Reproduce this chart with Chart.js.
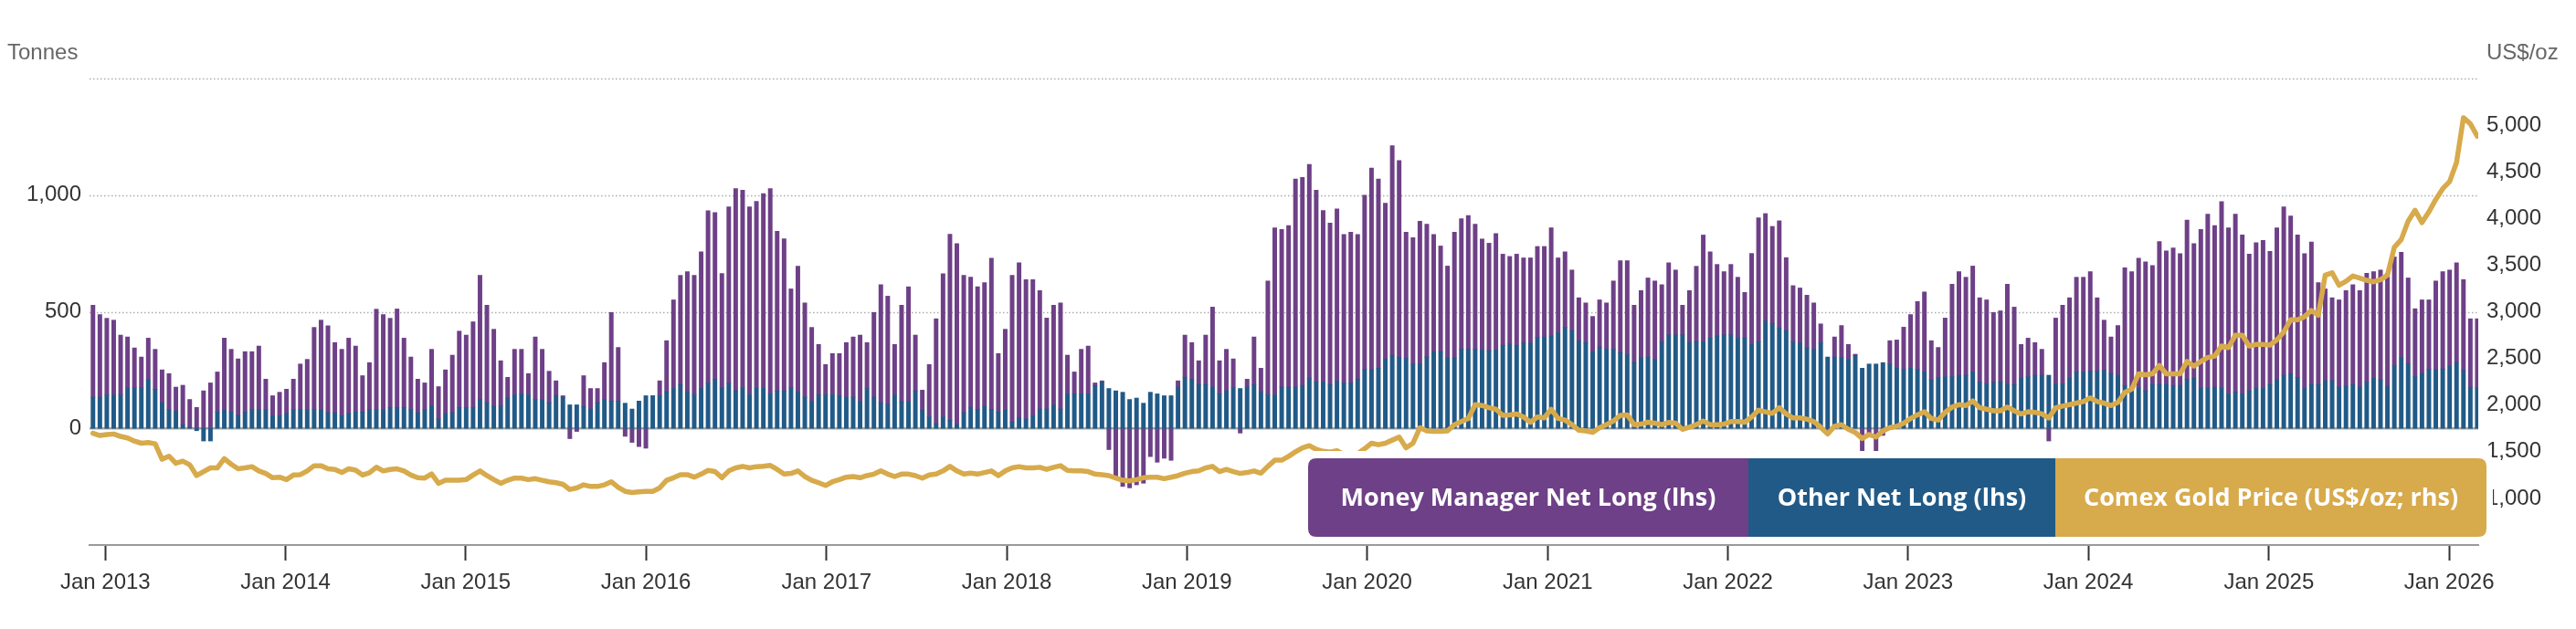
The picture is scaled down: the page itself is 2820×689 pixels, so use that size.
<!DOCTYPE html>
<html>
<head>
<meta charset="utf-8">
<script src="https://cdn.jsdelivr.net/npm/chart.js@4.4.1/dist/chart.umd.min.js"></script>
<style>
  html, body { margin: 0; padding: 0; background: #ffffff; }
  #wrap { width: 2820px; height: 689px; position: relative; }
  canvas { display: block; }
</style>
</head>
<body>
<div id="wrap"><canvas id="c" width="2820" height="689"></canvas></div>
<script>
// ---- Data (biweekly COMEX positioning, tonnes; Comex gold price, US$/oz) ----
const firstReportDate = '2012-12-07';
const reportStepDays = 14;

const seriesNames = ['Money Manager Net Long (lhs)', 'Other Net Long (lhs)', 'Comex Gold Price (US$/oz; rhs)'];

const otherNetLong = [
  134,134,144,144,144,175,175,175,208,168,
  110,81,74,16,5,-10,-54,-54,70,81,
  70,56,70,81,81,81,54,54,63,81,
  81,81,81,81,67,67,54,63,70,70,
  81,81,
  81,90,90,90,81,67,81,97,
  40,63,67,90,90,90,124,110,97,97,
  130,144,148,144,124,124,110,141,134,101,
  101,94,83,110,124,117,117,108,83,117,
  140,140,140,157,171,188,
  157,144,171,195,
  211,175,195,161,175,144,175,175,148,161,
  161,175,155,134,114,144,144,144,140,134,
  134,114,171,134,110,103,144,114,114,161,
  78,50,20,50,34,16,67,90,81,94,
  81,70,81,27,47,40,54,83,83,101,
  83,148,148,148,148,184,198,171,161,155,
  124,130,108,155,148,140,140,177,219,211,
  188,188,177,148,161,175,171,177,188,157,
  144,144,177,177,
  177,184,215,198,198,188,
  202,195,195,211,253,253,258,298,313,304,
  300,276,276,306,329,329,302,302,340,340,
  340,336,333,336,356,363,356,366,366,390,
  392,396,410,433,419,376,368,
  329,349,339,
  339,325,316,282,302,306,296,370,401,401,
  401,370,372,370,387,396,401,401,387,387,
  360,370,460,450,430,419,370,366,345,339,
  367,306,306,302,296,313,258,276,276,282,276,
  258,253,258,253,242,208,218,222,222,
  228,228,242,198,191,198,198,188,188,215,
  222,228,228,228,191,191,215,242,242,245,
  245,249,235,228,184,161,175,161,188,188,
  188,184,184,211,215,
  175,175,177,175,148,
  155,148,161,175,175,188,208,228,235,218,
  175,188,188,204,204,177,181,188,177,198,
  215,208,181,269,302,276,222,235,253,253,
  255,269,282,249,177,175
];

const moneyManagerNetLong = [
  394,354,328,320,256,217,170,131,179,171,
  141,154,103,169,119,90,161,195,172,306,
  269,242,259,248,272,130,86,101,105,130,
  195,215,352,383,373,301,285,324,283,156,
  201,430,
  407,382,422,297,225,144,114,242,
  139,188,247,327,310,367,532,418,328,193,
  89,195,191,91,268,215,135,63,6,-44,
  -13,132,88,61,158,380,230,-34,-60,-78,
  -85,0,64,219,380,468,
  515,512,586,738,
  714,489,755,867,846,806,798,832,880,684,
  652,423,540,404,319,216,130,177,181,234,
  258,286,197,363,506,464,216,414,493,239,
  86,224,450,613,798,776,589,558,526,531,
  649,251,344,629,663,598,584,508,390,427,
  455,166,94,191,205,11,6,-91,-208,-249,
  -255,-242,-235,-121,-145,-128,-137,27,181,157,
  102,212,343,142,178,123,-20,34,204,101,
  488,716,676,693,
  892,892,917,823,736,692,
  739,636,646,620,747,863,811,667,899,844,
  541,542,612,569,502,453,394,539,559,573,
  535,476,461,499,391,374,391,365,365,390,
  388,464,321,324,260,184,170,
  151,202,199,
  293,394,403,246,289,339,336,246,309,278,
  127,221,323,459,370,307,271,302,261,196,
  390,533,461,416,460,313,242,236,226,199,
  81,-15,86,139,64,5,-97,-30,-97,-30,100,
  121,181,230,291,343,168,129,251,396,
  444,420,454,362,360,299,306,430,332,145,
  165,140,111,-54,282,337,345,406,406,427,
  315,215,157,213,505,511,555,553,510,613,
  573,590,565,682,577,
  678,743,693,797,712,
  763,681,586,621,631,571,652,722,676,611,
  574,611,437,394,356,374,410,428,414,467,
  457,471,484,466,453,369,291,316,298,379,
  417,410,428,389,293,295
];

const comexGoldPrice = [
  1697,1674,1684,1690,1664,1647,1614,1591,1598,1585,
  1419,1452,1376,1399,1360,1244,1287,1327,1327,1426,
  1366,1317,1327,1340,1294,1267,1221,1227,1201,1250,
  1254,1294,1350,1350,1317,1310,1277,1317,1303,1250,
  1274,1334,1294,
  1310,1317,1294,1250,1221,1217,1261,1161,1194,1194,
  1194,1201,1250,1294,1244,1201,1161,1194,1217,1217,
  1201,1211,1194,1178,1168,1151,1095,1112,1145,1128,
  1128,1145,1178,1118,1075,1062,1069,1075,1075,1112,
  1194,1221,1254,
  1254,1227,1260,1300,1287,1221,1294,1327,1343,1327,
  1340,1343,1353,1310,1260,1267,1294,1234,1194,1168,
  1138,1178,1201,1227,1234,1221,1244,1260,1294,1260,
  1234,1260,1260,1244,1217,1250,1260,1294,1343,1294,
  1260,1270,1260,1277,
  1294,1244,1294,1327,1340,1327,1327,1333,1310,1333,
  1350,1300,1294,1294,1287,1260,1254,1244,1217,1194,
  1188,1201,1221,1227,1227,1211,1227,1244,1270,1287,
  1294,1327,1343,1287,1310,1287,1267,1277,1294,1270,
  1343,1409,1409,1450,
  1499,1542,1565,1525,1505,1495,1510,1470,1465,1478,
  1532,1591,1575,1591,1624,1657,1542,1591,1757,1723,
  1717,1717,1723,1790,1823,1856,2005,1995,1971,1955,
  1889,1895,1905,1872,1816,1872,1862,1955,1856,1839,
  1790,1730,1723,
  1707,1757,1790,1829,1889,1895,1790,1796,1816,1806,
  1790,1813,1806,1740,1763,1790,1829,1790,1790,1796,
  1823,1823,1816,1872,1945,1928,1912,1971,1905,1862,
  1862,1849,1823,1763,1690,1773,1790,1740,1707,1641,
  1684,1657,1724,1757,
  1773,1806,1856,1895,1928,1856,1839,1922,1978,2004,
  1995,2044,1971,1955,1938,1938,1978,1938,1905,1928,
  1922,1905,1862,1971,1988,2004,2021,2038,2077,2038,
  2021,1995,2028,2137,2170,2335,2325,2335,2424,2335,
  2335,2335,2467,2418,
  2467,2510,2524,2633,2616,2749,2749,2633,2649,2649,
  2643,2699,2782,2914,2914,2947,3013,2963,3393,3417,
  3284,3327,3384,3360,3337,3321,3344,3393,3691,3774,
  3972,4088,3956,4071,4204,4319,4395,4600,5080,5014,
  4882
];

const tickYears = [2013,2014,2015,2016,2017,2018,2019,2020,2021,2022,2023,2024,2025,2026];
const leftTickLabels = [0, 500, 1000];
const rightTickLabels = [1000,1500,2000,2500,3000,3500,4000,4500,5000];

// ---- Style ----
const COLORS = { mm: '#6e4087', other: '#215a87', gold: '#d7aa4b' };
const DAY = 86400000;
const fp = firstReportDate.split('-').map(Number);
const firstDay = Date.UTC(fp[0], fp[1] - 1, fp[2]) / DAY;
const reportDays = moneyManagerNetLong.map((_, i) => firstDay + i * reportStepDays);
const yearDay = y => Date.UTC(y, 0, 1) / DAY;

const toXY = arr => arr.map((v, i) => ({ x: reportDays[i], y: v }));

const gridPlugin = {
  id: 'customGrid',
  beforeDatasetsDraw(chart) {
    const { ctx, chartArea } = chart;
    const y = chart.scales.y;
    ctx.save();
    [500, 1000, 1500].forEach(v => {
      const py = Math.round(y.getPixelForValue(v)) + 0.5;
      ctx.beginPath();
      ctx.setLineDash([1.5, 2.5]);
      ctx.lineWidth = 1.5;
      ctx.strokeStyle = '#adadad';
      ctx.moveTo(chartArea.left, py);
      ctx.lineTo(chartArea.right, py);
      ctx.stroke();
    });
    const p0 = y.getPixelForValue(0);
    ctx.setLineDash([]);
    ctx.beginPath();
    ctx.lineWidth = 2.5;
    ctx.strokeStyle = '#a5a5a5';
    ctx.moveTo(chartArea.left, p0);
    ctx.lineTo(chartArea.right, p0);
    ctx.stroke();
    ctx.restore();
  }
};

function roundRectPath(ctx, x, y, w, h, r) {
  ctx.beginPath();
  ctx.moveTo(x + r, y);
  ctx.lineTo(x + w - r, y);
  ctx.quadraticCurveTo(x + w, y, x + w, y + r);
  ctx.lineTo(x + w, y + h - r);
  ctx.quadraticCurveTo(x + w, y + h, x + w - r, y + h);
  ctx.lineTo(x + r, y + h);
  ctx.quadraticCurveTo(x, y + h, x, y + h - r);
  ctx.lineTo(x, y + r);
  ctx.quadraticCurveTo(x, y, x + r, y);
  ctx.closePath();
}

const legendPlugin = {
  id: 'boxLegend',
  afterDatasetsDraw(chart) {
    const ctx = chart.ctx;
    const L = 1432, T = 502, H = 86;
    const widths = [482, 336, 472];
    const cols = [COLORS.mm, COLORS.other, COLORS.gold];
    const total = widths.reduce((a, b) => a + b, 0);
    ctx.save();
    ctx.fillStyle = '#ffffff';
    roundRectPath(ctx, L - 7, T - 8, total + 14, H + 13, 12);
    ctx.fill();
    roundRectPath(ctx, L, T, total, H, 9);
    ctx.clip();
    let x = L;
    ctx.font = '700 27px "Open Sans", "Noto Sans", sans-serif';
    ctx.textAlign = 'center';
    ctx.textBaseline = 'middle';
    widths.forEach((w, i) => {
      ctx.fillStyle = cols[i];
      ctx.fillRect(x, T, w + 1, H);
      ctx.fillStyle = '#ffffff';
      ctx.fillText(seriesNames[i], x + w / 2, T + H / 2 + 1);
      x += w;
    });
    ctx.restore();
  },
  afterDraw(chart) {
    const ctx = chart.ctx;
    ctx.save();
    ctx.font = '24px "Liberation Sans", Arial, sans-serif';
    ctx.fillStyle = '#666666';
    ctx.textBaseline = 'middle';
    ctx.textAlign = 'left';
    ctx.fillText('Tonnes', 8, 58);
    ctx.fillText('US$/oz', 2722, 58);
    ctx.restore();
  }
};

const axisFont = { family: '"Liberation Sans", Arial, sans-serif', size: 24 };

new Chart(document.getElementById('c'), {
  data: {
    datasets: [
      {
        type: 'line', label: seriesNames[2], data: toXY(comexGoldPrice), yAxisID: 'y2',
        borderColor: COLORS.gold, borderWidth: 5.5, pointRadius: 0, tension: 0,
        borderJoinStyle: 'round', borderCapStyle: 'round', fill: false, order: 0
      },
      {
        type: 'bar', label: seriesNames[1], data: toXY(otherNetLong), yAxisID: 'y',
        backgroundColor: COLORS.other, barThickness: 4.3, stack: 'pos', order: 1
      },
      {
        type: 'bar', label: seriesNames[0], data: toXY(moneyManagerNetLong), yAxisID: 'y',
        backgroundColor: COLORS.mm, barThickness: 4.3, stack: 'pos', order: 1
      }
    ]
  },
  options: {
    responsive: false,
    devicePixelRatio: 1,
    animation: false,
    layout: { padding: { top: 86, left: 0, right: 0, bottom: 0 } },
    plugins: { legend: { display: false }, tooltip: { enabled: false } },
    scales: {
      x: {
        type: 'linear',
        stacked: true,
        offset: false,
        bounds: 'data',
        min: firstDay - 7,
        max: reportDays[reportDays.length - 1] + 2,
        afterBuildTicks(s) { s.ticks = tickYears.map(y => ({ value: yearDay(y) })); },
        afterFit(s) { s.height = 92; },
        ticks: {
          autoSkip: false, maxRotation: 0, padding: 10,
          color: '#333333', font: axisFont,
          callback(v) { return 'Jan ' + new Date(v * DAY).getUTCFullYear(); }
        },
        grid: { display: true, offset: false, drawOnChartArea: false, drawTicks: true, tickLength: 17, tickColor: '#333333', tickWidth: 2 },
        border: { display: true, color: '#9a9a9a', width: 2 }
      },
      y: {
        position: 'left', stacked: true, min: -500, max: 1500,
        afterBuildTicks(s) { s.ticks = [-500, 0, 500, 1000, 1500].map(v => ({ value: v })); },
        afterFit(s) { s.width = 98; },
        ticks: {
          padding: 9, color: '#333333', font: axisFont,
          callback(v) { return leftTickLabels.includes(v) ? v.toLocaleString('en-US') : null; }
        },
        grid: { display: false, drawTicks: false },
        border: { display: false }
      },
      y2: {
        position: 'right', min: 500, max: 5500,
        afterBuildTicks(s) { s.ticks = [500,1000,1500,2000,2500,3000,3500,4000,4500,5000,5500].map(v => ({ value: v })); },
        afterFit(s) { s.width = 107; },
        ticks: {
          padding: 9, color: '#333333', font: axisFont,
          callback(v) { return rightTickLabels.includes(v) ? v.toLocaleString('en-US') : null; }
        },
        grid: { display: false, drawTicks: false },
        border: { display: false }
      }
    }
  },
  plugins: [gridPlugin, legendPlugin]
});
</script>
</body>
</html>
